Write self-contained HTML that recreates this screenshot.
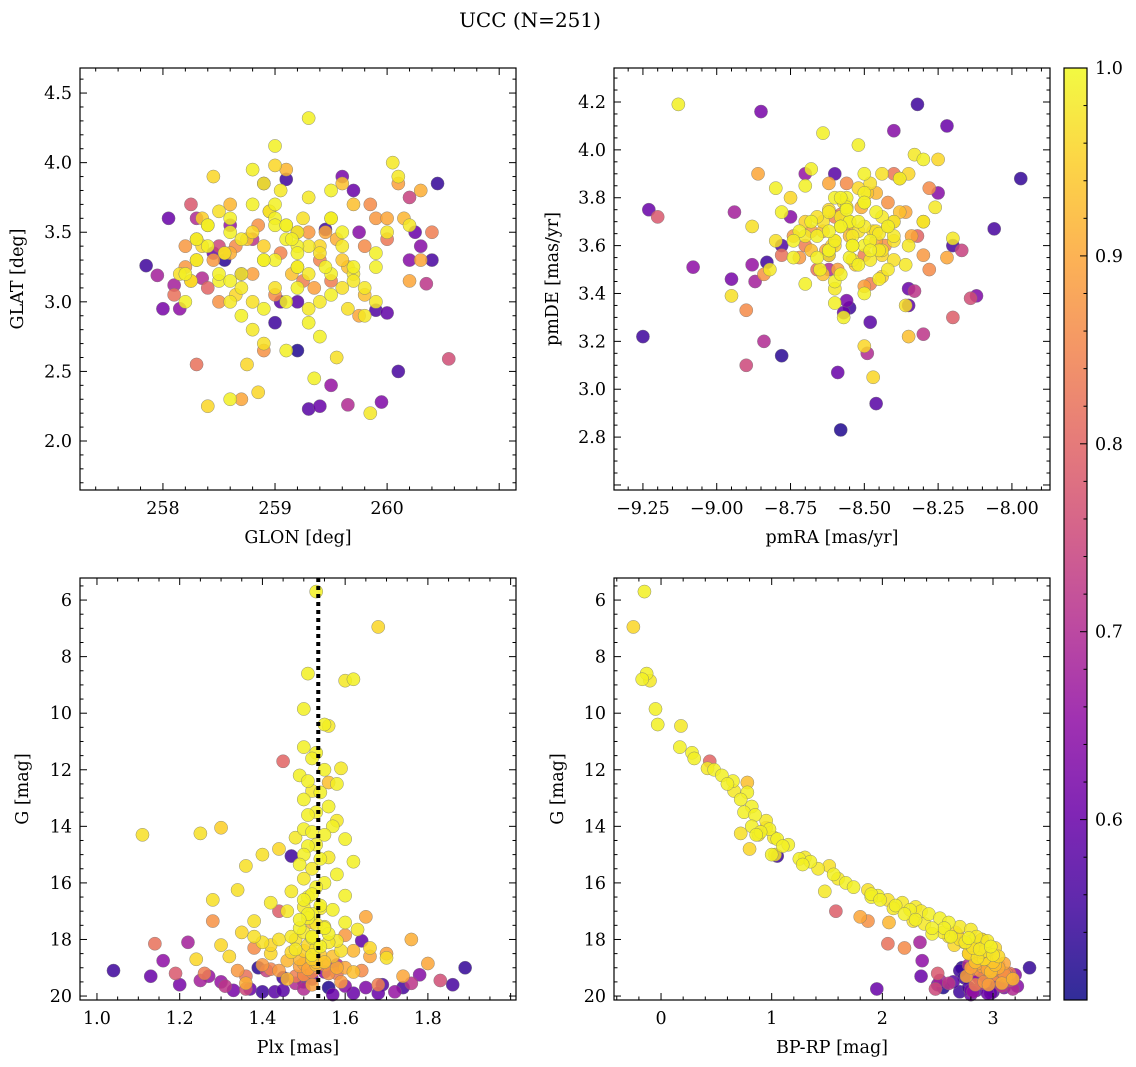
<!DOCTYPE html>
<html><head><meta charset="utf-8">
<style>
html,body{margin:0;padding:0;background:#fff;}
svg{display:block;font-family:"DejaVu Serif","Liberation Serif",serif;}
</style></head>
<body>
<svg id="fig" width="1136" height="1067" viewBox="0 0 1136 1067" xmlns="http://www.w3.org/2000/svg">
<text x="530" y="27" font-size="20" text-anchor="middle">UCC (N=251)</text>
</svg>
<script>
// star data: glon, glat, pmra, pmde, plx, gmag, bprp, prob
const glonA=[259.3,259.0,258.9,259.4,259.2,258.6,259.5,258.3,259.1,259.6,258.8,259.8,258.4,259.2,259.0,258.7,259.3,259.9,258.5,259.1,259.5,258.9,259.7,258.2,259.0,259.4,258.6,260.0,259.2,258.8,259.3,258.4,259.6,259.0,258.7,259.1,259.9,258.3,259.5,258.9,260.1,259.2,258.6,259.4,258.8,259.0,259.7,258.5,259.3,258.2,260.2,259.1,258.7,259.5,258.9,259.6,258.4,259.2,258.8,259.0,259.8,258.6,259.3,258.35,259.45,258.95,259.15,258.55,260.05,259.65,258.75,259.35,258.25,259.05,259.55,258.45,259.85,258.85,259.25,258.65,
258.4,259.7,258.9,260.2,258.6,259.3,260.3,258.3,259.8,258.8,259.1,258.5,260.0,259.4,258.2,259.6,260.4,258.7,259.0,258.3,259.9,258.6,259.5,260.1,258.9,259.2,
257.85,258.05,260.45,258.25,259.45,259.6,260.1,259.2,258.5,260.25,257.95,259.05,259.5,258.8,260.3,258.35,259.4,258.15,259.9,260.2,258.7,259.3,260.55,258.55,259.65,259.95,258.9,260.35,259.1,258.1,260.0,258.45,259.75];
const glatA=[4.32,3.98,3.3,3.0,3.4,3.5,3.2,3.3,3.55,3.5,3.7,3.1,3.4,3.25,3.6,2.9,3.75,3.35,3.15,3.45,3.05,3.85,3.2,3.0,3.3,2.75,3.6,3.5,3.1,3.95,2.85,3.55,3.4,3.7,3.2,2.65,3.0,3.3,3.6,2.95,3.9,3.5,3.15,3.35,2.8,4.12,3.25,3.65,2.95,3.2,3.55,3.0,3.45,3.8,2.7,3.1,2.25,3.35,3.0,3.55,2.9,2.3,3.2,3.4,3.25,3.65,3.45,3.35,4.0,2.95,2.55,2.45,3.15,3.8,2.6,3.9,2.2,2.35,3.6,3.05,
3.1,3.7,3.4,3.15,3.7,3.5,3.8,2.55,3.4,3.2,3.95,3.0,3.6,3.3,3.25,3.85,3.5,2.3,3.05,3.45,3.6,3.35,3.15,3.85,2.65,3.5,
3.26,3.6,3.85,3.7,3.52,3.9,2.5,2.65,3.4,3.5,3.19,3.0,2.4,3.45,3.4,3.17,2.25,2.95,2.94,3.75,3.2,2.23,2.59,3.3,2.26,2.28,3.85,3.13,3.88,3.12,2.92,3.35,3.5];
const pmraA=[-9.13,-8.62,-8.55,-8.45,-8.6,-8.5,-8.65,-8.4,-8.5,-8.55,-8.62,-8.35,-8.58,-8.48,-8.7,-8.52,-8.44,-8.6,-8.72,-8.5,-8.38,-8.66,-8.54,-8.8,-8.46,-8.58,-8.3,-8.62,-8.42,-8.74,-8.5,-8.56,-8.36,-8.68,-8.48,-8.6,-8.26,-8.52,-8.44,-8.78,-8.33,-8.54,-8.64,-8.4,-8.58,-8.5,-8.7,-8.46,-8.62,-8.55,-8.2,-8.68,-8.42,-8.52,-8.88,-8.48,-8.6,-8.56,-8.36,-8.74,-8.45,-8.66,-8.3,-8.54,-8.5,-8.82,-8.58,-8.4,-8.62,-8.95,-8.47,-8.57,-8.25,-8.7,-8.44,-8.35,-8.6,-8.5,-8.64,-8.52,
-8.32,-8.68,-8.44,-8.86,-8.56,-8.38,-8.6,-8.78,-8.28,-8.5,-8.64,-8.42,-8.22,-8.58,-8.74,-8.35,-8.48,-8.62,-8.9,-8.46,-8.3,-8.55,-8.7,-8.4,-8.84,-8.2,
-9.25,-9.23,-7.97,-9.2,-8.32,-8.85,-8.06,-8.58,-8.9,-8.22,-8.94,-8.46,-8.62,-8.3,-8.4,-8.84,-8.59,-9.08,-8.78,-8.17,-8.56,-8.6,-8.14,-8.78,-8.49,-8.12,-8.88,-8.33,-8.83,-8.87,-8.35,-8.57,-8.75];
const pmdeA=[4.19,3.75,3.55,3.65,3.8,3.6,3.5,3.7,3.9,3.7,3.58,3.6,3.68,3.62,3.85,3.52,3.72,3.45,3.66,3.78,3.88,3.55,3.64,3.84,3.74,3.48,3.96,3.56,3.68,3.62,3.4,3.8,3.52,3.7,3.58,3.36,3.76,3.66,3.9,3.74,3.98,3.6,4.07,3.54,3.72,3.82,3.44,3.66,3.58,3.7,3.63,3.92,3.5,4.02,3.68,3.86,3.6,3.76,3.35,3.55,3.46,3.64,3.7,3.54,3.78,3.5,3.68,3.62,3.74,3.39,3.05,3.3,3.96,3.64,3.58,3.9,3.42,3.18,3.7,3.84,
3.64,3.58,3.47,3.9,3.76,3.88,3.62,3.56,3.5,3.43,3.66,3.78,3.55,3.73,3.64,3.22,3.44,3.86,3.33,3.82,3.56,3.69,3.6,3.7,3.48,3.3,
3.22,3.75,3.88,3.72,4.19,4.16,3.67,2.83,3.1,4.1,3.74,2.94,3.56,3.23,4.08,3.2,3.07,3.51,3.6,3.58,3.37,3.9,3.38,3.14,3.15,3.39,3.52,3.41,3.53,3.45,3.35,3.32,3.72];
const plxA=[1.53,1.68,1.51,1.6,1.62,1.5,1.55,1.56,1.5,1.53,1.52,1.59,1.55,1.49,1.51,1.58,1.52,1.54,1.5,1.56,1.53,1.51,1.58,1.57,1.5,1.52,1.55,1.48,1.6,1.53,1.51,1.5,1.56,1.54,1.62,1.49,1.52,1.36,1.4,1.58,1.5,1.55,1.53,1.34,1.47,1.6,1.51,1.28,1.42,1.54,1.5,1.57,1.46,1.52,1.11,1.25,1.44,1.51,1.38,1.6,1.55,1.49,1.63,1.35,1.56,1.47,1.52,1.44,1.58,1.4,1.3,1.54,1.66,1.48,1.59,1.42,1.52,1.32,1.7,1.24,
1.45,1.56,1.3,1.65,1.52,1.6,1.76,1.14,1.38,1.7,1.49,1.55,1.8,1.42,1.34,1.62,1.26,1.74,1.5,1.46,1.59,1.36,1.68,1.52,1.28,1.44,
1.04,1.13,1.89,1.19,1.45,1.33,1.86,1.56,1.36,1.62,1.25,1.5,1.72,1.31,1.78,1.48,1.57,1.16,1.69,1.41,1.52,1.43,1.83,1.39,1.58,1.65,1.27,1.76,1.47,1.22,1.64,1.37,1.55];
const gmagA=[5.7,6.95,8.6,8.85,8.8,9.85,10.4,10.45,11.2,11.4,11.6,11.95,12.0,12.2,12.4,12.5,12.75,12.8,13.05,13.3,13.5,13.6,13.8,14.0,14.1,14.2,14.3,14.4,14.45,14.65,14.7,15.0,15.1,15.15,15.25,15.35,15.5,15.4,15.0,15.7,15.85,16.0,16.15,16.25,16.3,16.45,16.5,16.6,16.7,16.8,16.85,16.95,17.0,17.1,14.3,14.25,14.8,17.25,17.35,17.4,17.55,17.6,17.65,17.75,17.8,17.9,17.95,18.0,18.05,18.1,18.2,18.25,18.3,18.35,18.4,18.5,18.55,18.6,18.65,18.7,
11.7,12.45,14.05,17.2,17.4,17.85,18.0,18.15,18.3,18.5,18.7,18.9,18.85,19.05,19.1,19.15,19.2,19.3,19.25,19.4,19.5,19.55,19.6,19.6,17.35,17.0,
19.1,19.3,19.0,19.2,19.35,19.8,19.6,19.7,19.75,19.9,19.45,19.5,19.85,19.65,19.25,19.55,19.95,18.75,19.6,19.1,19.4,19.85,19.45,19.0,18.9,19.7,19.3,19.55,15.05,18.1,18.05,19.75,19.15];
const bprpA=[-0.15,-0.25,-0.13,-0.1,-0.17,-0.05,-0.03,0.18,0.17,0.28,0.3,0.42,0.48,0.55,0.65,0.6,0.66,0.78,0.72,0.82,0.75,0.85,0.95,0.82,0.98,0.9,0.86,1.02,1.05,1.15,1.1,1.0,1.3,1.25,1.35,1.28,1.42,1.52,1.03,1.56,1.6,1.67,1.74,1.87,1.48,1.96,1.9,2.05,2.18,2.12,2.3,2.25,2.35,2.42,0.88,0.72,0.8,2.52,2.28,2.6,2.7,2.56,2.8,2.66,2.45,2.85,2.78,2.9,2.95,2.74,2.84,2.98,3.02,2.88,2.93,2.78,3.0,3.05,2.86,2.92,
0.44,0.78,0.95,1.8,2.06,2.68,2.9,2.05,2.2,2.78,2.95,3.05,3.1,2.82,2.88,2.98,3.12,2.76,3.0,3.18,2.92,3.08,2.84,2.96,1.87,1.58,
2.7,2.35,3.33,2.5,2.74,2.8,3.0,2.55,2.48,2.98,2.52,2.64,2.82,3.08,3.2,2.9,2.8,2.36,2.95,3.04,2.88,3.0,3.15,2.72,2.78,3.1,2.86,2.6,1.05,2.34,2.88,1.95,2.96];
const probA=[0.99,0.96,0.99,0.98,0.99,0.99,0.99,0.98,0.99,0.99,0.99,0.98,0.99,0.99,0.99,0.99,0.98,0.99,0.99,0.99,0.99,0.99,0.98,0.99,0.99,0.99,0.99,0.98,0.99,0.99,0.99,0.99,0.98,0.99,0.99,0.99,0.98,0.97,0.97,0.99,0.98,0.99,0.99,0.97,0.98,0.99,0.99,0.97,0.98,0.99,0.98,0.99,0.98,0.99,0.97,0.97,0.96,0.99,0.97,0.99,0.98,0.99,0.98,0.96,0.99,0.98,0.99,0.97,0.98,0.97,0.96,0.99,0.96,0.98,0.97,0.96,0.98,0.96,0.97,0.96,
0.8,0.93,0.95,0.9,0.92,0.88,0.91,0.82,0.86,0.89,0.92,0.87,0.9,0.85,0.88,0.93,0.84,0.9,0.86,0.92,0.88,0.91,0.84,0.89,0.87,0.79,
0.55,0.6,0.54,0.78,0.55,0.62,0.56,0.52,0.75,0.6,0.68,0.58,0.66,0.72,0.64,0.7,0.6,0.65,0.57,0.74,0.62,0.58,0.76,0.53,0.7,0.63,0.66,0.72,0.55,0.68,0.59,0.6,0.64];
// additional faint members
const glonB=[258.3,258.5,258.7,258.9,259.1,259.3,259.5,259.7,259.9,258.4,258.6,258.8,259.0,259.2,259.4,259.6,259.8,258.35,258.55,258.75,258.95,259.15,259.35,259.55,259.75,258.45,258.65,258.85,259.05,259.25,259.45,259.65,258.25,260.15,258.2,259.85,258.15,260.3,258.1,260.0,258.0,260.4,259.2,258.6,259.7,258.3,260.2,259.0];
const glatB=[3.45,3.2,3.1,3.3,3.55,3.4,3.6,3.15,3.25,3.55,3.0,3.5,3.1,3.25,3.4,3.3,3.05,3.6,3.35,3.45,3.65,3.2,3.1,3.45,2.9,3.3,3.4,3.55,3.35,3.15,3.5,3.25,3.15,3.6,3.4,3.7,3.2,3.3,3.05,3.45,2.95,3.3,3.0,3.55,3.8,3.6,3.3,2.85];
const pmraB=[-8.6,-8.52,-8.45,-8.56,-8.62,-8.48,-8.58,-8.4,-8.54,-8.66,-8.5,-8.44,-8.57,-8.61,-8.47,-8.53,-8.38,-8.7,-8.55,-8.49,-8.63,-8.42,-8.59,-8.51,-8.46,-8.68,-8.56,-8.43,-8.6,-8.5,-8.34,-8.64,-8.75,-8.3,-8.72,-8.28,-8.8,-8.36,-8.66,-8.4,-8.95,-8.2,-8.48,-8.7,-8.35,-8.62,-8.25,-8.55];
const pmdeB=[3.62,3.7,3.58,3.75,3.66,3.54,3.8,3.64,3.6,3.72,3.68,3.56,3.78,3.6,3.66,3.52,3.74,3.7,3.64,3.82,3.58,3.68,3.5,3.76,3.62,3.66,3.86,3.6,3.72,3.56,3.64,3.48,3.8,3.7,3.55,3.84,3.62,3.74,3.5,3.9,3.46,3.6,3.28,3.9,3.42,3.5,3.82,3.34];
const plxB=[1.52,1.5,1.54,1.51,1.49,1.53,1.55,1.5,1.52,1.48,1.56,1.51,1.53,1.5,1.47,1.54,1.57,1.52,1.46,1.55,1.5,1.53,1.49,1.58,1.51,1.44,1.52,1.56,1.5,1.48,1.6,1.53,1.42,1.62,1.4,1.64,1.38,1.66,1.36,1.58,1.2,1.74,1.45,1.3,1.68,1.5,1.6,1.4];
const gmagB=[16.4,16.6,16.9,17.1,17.3,17.45,17.6,17.75,17.9,18.0,18.1,18.2,18.3,18.4,18.45,18.55,18.6,18.7,18.75,18.8,18.85,18.9,18.95,19.0,19.05,19.1,19.15,19.2,19.25,19.3,19.0,18.8,18.2,18.4,18.9,19.1,17.9,18.6,19.3,19.2,19.6,19.7,19.8,19.5,19.9,19.75,19.65,19.85];
const bprpB=[1.9,1.98,2.1,2.2,2.3,2.38,2.45,2.55,2.62,2.7,2.75,2.8,2.82,2.85,2.9,2.88,2.95,2.92,2.98,3.0,2.86,3.02,2.9,3.05,2.95,3.0,3.08,3.1,3.04,3.12,2.8,2.84,2.65,2.9,2.96,3.0,2.6,2.92,3.1,3.15,2.5,2.78,2.85,3.05,2.95,3.18,3.22,2.7];
const probB=[0.99,0.99,0.98,0.99,0.99,0.98,0.99,0.98,0.99,0.97,0.98,0.96,0.97,0.95,0.96,0.94,0.93,0.95,0.92,0.94,0.9,0.93,0.89,0.91,0.9,0.88,0.86,0.87,0.85,0.84,0.9,0.93,0.96,0.92,0.88,0.86,0.97,0.9,0.82,0.83,0.62,0.56,0.58,0.66,0.6,0.7,0.64,0.55];
const glon=glonA.concat(glonB), glat=glatA.concat(glatB), pmra=pmraA.concat(pmraB), pmde=pmdeA.concat(pmdeB);
const plx=plxA.concat(plxB), gmag=gmagA.concat(gmagB), bprp=bprpA.concat(bprpB), prob=probA.concat(probB);
const meanPlx=1.535;
const cbTicks=[0.6,0.7,0.8,0.9,1.0];

const NS="http://www.w3.org/2000/svg";
const svg=document.getElementById('fig');
function mk(tag,attrs,parent){const e=document.createElementNS(NS,tag);for(const k in attrs)e.setAttribute(k,attrs[k]);(parent||svg).appendChild(e);return e;}
const CMIN=0.504,CMAX=1.0;
const stops=[[13,8,135],[65,4,157],[106,0,168],[143,13,164],[177,42,144],[204,71,120],[225,100,98],[242,132,75],[252,166,54],[252,206,37],[240,249,33]];
function cmap(v){let t=(v-CMIN)/(CMAX-CMIN);t=Math.max(0,Math.min(1,t));const f=t*10,i=Math.min(9,Math.floor(f)),r=f-i;const a=stops[i],b=stops[i+1];return `rgb(${a.map((c,k)=>Math.round(c+(b[k]-c)*r)).join(',')})`;}
function fmt(v,d){return v.toFixed(d).replace('-','\u2212');}
const FS=17.5;

function panel(cfg){
  const {name,x0,y0,w,h,xmin,xmax,ymin,ymax,yinv,xs,ys,xmaj,xmin_,ymaj,ymin_,xd,yd,xlabel,ylabel,xt,yt}=cfg;
  const g=mk('g',{});
  
  
  const X=v=>x0+(v-xmin)/(xmax-xmin)*w;
  const Y=v=>yinv? y0+(v-ymin)/(ymax-ymin)*h : y0+h-(v-ymin)/(ymax-ymin)*h;
  const pts=mk('g',{},g);
  
  
  const n=Math.min(xs.length,ys.length,prob.length);
  const order=[];for(let i=0;i<n;i++)order.push(i);
  order.sort((a,b)=>prob[a]-prob[b]);
  for(const i of order){
    if(!isFinite(xs[i])||!isFinite(ys[i]))continue;
    const c=mk('circle',{cx:X(xs[i]),cy:Y(ys[i]),r:6.6,fill:cmap(prob[i]),'fill-opacity':0.85,stroke:'#777','stroke-width':0.5,'stroke-opacity':0.8},pts);
    
    
  }
  if(cfg.vline!==undefined){
    const l=mk('line',{x1:X(cfg.vline),x2:X(cfg.vline),y1:y0,y2:y0+h,stroke:'#000','stroke-width':4,'stroke-dasharray':'4,4'},g);
    
    
  }
  const fr=mk('rect',{x:x0,y:y0,width:w,height:h,fill:'none',stroke:'#000','stroke-width':1.2},g);
  
  
  const eps=1e-6;
  for(let v=Math.ceil(xmin/xmin_)*xmin_;v<=xmax+eps;v+=xmin_){
    const px=X(v);const isMaj=Math.abs(v/xmaj-Math.round(v/xmaj))<1e-4;const L=isMaj?7:3.5;
    mk('line',{x1:px,x2:px,y1:y0+h,y2:y0+h-L,stroke:'#000','stroke-width':1},g);
    mk('line',{x1:px,x2:px,y1:y0,y2:y0+L,stroke:'#000','stroke-width':1},g);
  }
  for(const v of xt){const t=mk('text',{x:X(v),y:y0+h+24,'font-size':FS,'text-anchor':'middle'},g);t.textContent=fmt(v,xd);}
  for(let v=Math.ceil(ymin/ymin_)*ymin_;v<=ymax+eps;v+=ymin_){
    const py=Y(v);const isMaj=Math.abs(v/ymaj-Math.round(v/ymaj))<1e-4;const L=isMaj?7:3.5;
    mk('line',{x1:x0,x2:x0+L,y1:py,y2:py,stroke:'#000','stroke-width':1},g);
    mk('line',{x1:x0+w,x2:x0+w-L,y1:py,y2:py,stroke:'#000','stroke-width':1},g);
  }
  for(const v of yt){const t=mk('text',{x:x0-8,y:Y(v)+6,'font-size':FS,'text-anchor':'end'},g);t.textContent=fmt(v,yd);}
  const xl=mk('text',{x:x0+w/2,y:y0+h+53,'font-size':FS,'text-anchor':'middle'},g);xl.textContent=xlabel;
  
  
  const lx=cfg.ylx;
  const yl=mk('text',{x:lx,y:y0+h/2,'font-size':FS,'text-anchor':'middle',transform:`rotate(-90 ${lx} ${y0+h/2})`},g);yl.textContent=ylabel;
  
  
}
panel({name:'glon-glat-panel',x0:80,y0:68,w:436,h:422,xmin:257.26,xmax:261.15,ymin:1.648,ymax:4.68,xs:glon,ys:glat,xmaj:1,xmin_:0.2,ymaj:0.5,ymin_:0.1,xd:0,yd:1,xt:[258,259,260],yt:[2.0,2.5,3.0,3.5,4.0,4.5],xlabel:'GLON [deg]',ylabel:'GLAT [deg]',ylx:23});
panel({name:'proper-motion-panel',x0:614,y0:68,w:436,h:422,xmin:-9.348,xmax:-7.871,ymin:2.579,ymax:4.342,xs:pmra,ys:pmde,xmaj:0.25,xmin_:0.05,ymaj:0.2,ymin_:0.05,xd:2,yd:1,xt:[-9.25,-9.0,-8.75,-8.5,-8.25,-8.0],yt:[2.8,3.0,3.2,3.4,3.6,3.8,4.0,4.2],xlabel:'pmRA [mas/yr]',ylabel:'pmDE [mas/yr]',ylx:558});
panel({name:'parallax-mag-panel',x0:80,y0:578,w:436,h:422,xmin:0.959,xmax:2.013,ymin:5.22,ymax:20.14,yinv:true,xs:plx,ys:gmag,xmaj:0.2,xmin_:0.05,ymaj:2,ymin_:0.5,xd:1,yd:0,xt:[1.0,1.2,1.4,1.6,1.8],yt:[6,8,10,12,14,16,18,20],xlabel:'Plx [mas]',ylabel:'G [mag]',ylx:28,vline:meanPlx});
panel({name:'cmd-panel',x0:614,y0:578,w:436,h:422,xmin:-0.425,xmax:3.515,ymin:5.22,ymax:20.14,yinv:true,xs:bprp,ys:gmag,xmaj:1,xmin_:0.2,ymaj:2,ymin_:0.5,xd:0,yd:0,xt:[0,1,2,3],yt:[6,8,10,12,14,16,18,20],xlabel:'BP-RP [mag]',ylabel:'G [mag]',ylx:563});

const cb=mk('g',{});


const defs=mk('defs',{},cb);
const lg=mk('linearGradient',{id:'pl',x1:0,y1:1,x2:0,y2:0},defs);
stops.forEach((s,i)=>mk('stop',{offset:i/10,'stop-color':`rgb(${s.join(',')})`,'stop-opacity':0.85},lg));
const cx0=1064,cy0=68,cw=23,ch=932;
mk('rect',{x:cx0,y:cy0,width:cw,height:ch,fill:'url(#pl)',stroke:'#000','stroke-width':1.2},cb);
const CY=v=>cy0+ch-(v-CMIN)/(CMAX-CMIN)*ch;
for(let v=0.52;v<=1.0001;v+=0.02){const py=CY(v);const maj=Math.abs(v*10-Math.round(v*10))<1e-4;mk('line',{x1:cx0+cw,x2:cx0+cw-(maj?7:3.5),y1:py,y2:py,stroke:'#000','stroke-width':1},cb);}
for(const v of cbTicks){const t=mk('text',{x:cx0+cw+8,y:CY(v)+6,'font-size':FS},cb);t.textContent=v.toFixed(1);}
</script>
</body></html>
